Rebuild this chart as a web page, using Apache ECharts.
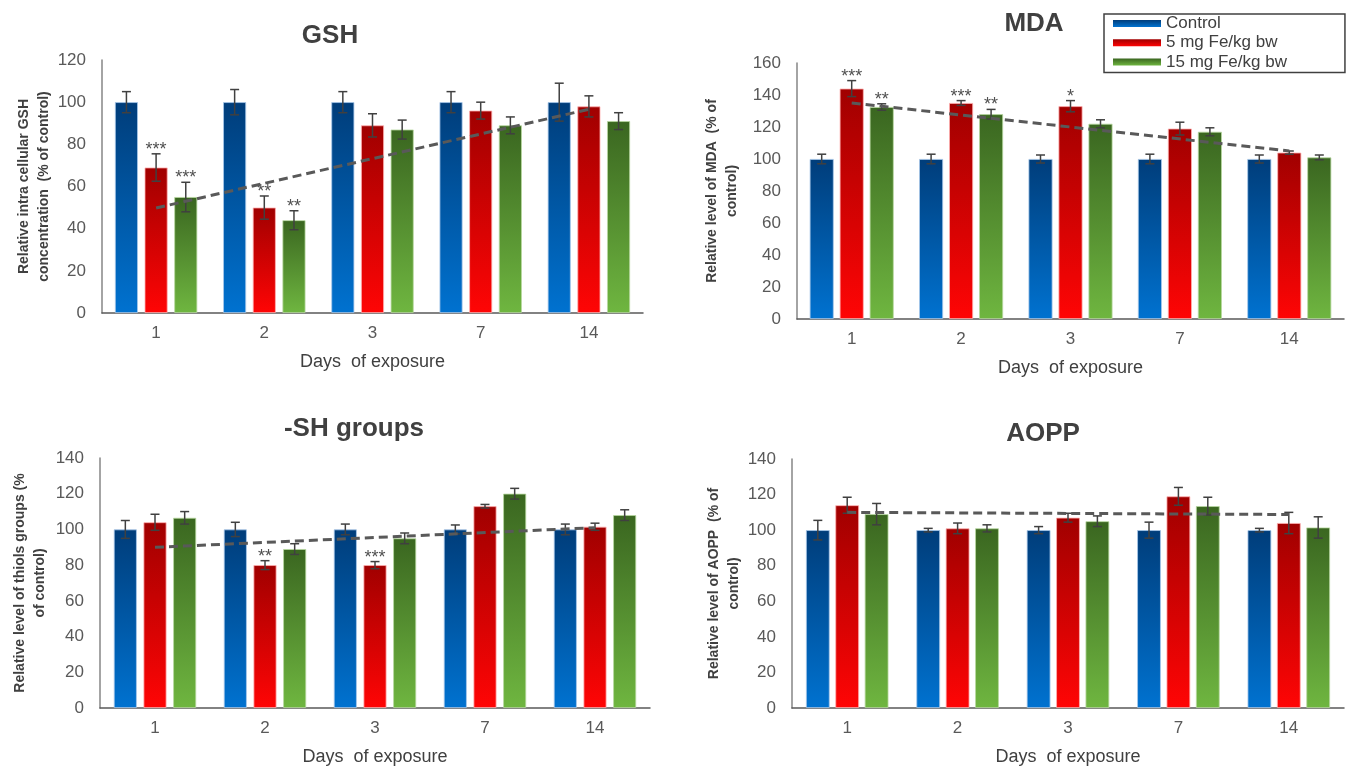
<!DOCTYPE html>
<html>
<head>
<meta charset="utf-8">
<script src="https://cdn.jsdelivr.net/npm/echarts@6/dist/echarts.min.js"></script>
<style>
html,body{margin:0;padding:0;background:#fff;}
#chart{width:1350px;height:769px;}
</style>
</head>
<body>
<div id="chart"></div>
<script>
// ---------- DATA ----------
const days = ['1', '2', '3', '7', '14'];
const seriesNames = ['Control', '5 mg Fe/kg bw', '15 mg Fe/kg bw'];

// GSH
const gshControl = [100, 100, 100, 100, 100];
const gshControlErr = [5, 6, 5, 5, 9];
const gsh5 = [69, 50, 89, 96, 98];
const gsh5Err = [6.5, 5.5, 5.5, 4, 5];
const gsh15 = [55, 44, 87, 89, 91];
const gsh15Err = [7, 4.5, 4.5, 4, 4];
const gshSig5 = ['***', '**', '', '', ''];
const gshSig15 = ['***', '**', '', '', ''];
const gshTrend = [49.8, null, null, null, 96.6];

// MDA
const mdaControl = [100, 100, 100, 100, 100];
const mdaControlErr = [3, 3, 2.5, 3, 2.5];
const mda5 = [144, 135, 133, 119, 104];
const mda5Err = [5, 1.5, 3.5, 4, 1];
const mda15 = [132.5, 128, 122, 117, 101];
const mda15Err = [2, 3, 2.5, 2.5, 1.5];
const mdaSig5 = ['***', '***', '*', '', ''];
const mdaSig15 = ['**', '**', '', '', ''];
const mdaTrend = [135, null, null, null, 105];

// -SH groups
const shControl = [100, 100, 100, 100, 100];
const shControlErr = [5, 4, 3, 2.5, 3];
const sh5 = [104, 80, 80, 113, 101.5];
const sh5Err = [4.5, 2.5, 2, 1, 2];
const sh15 = [106.5, 89, 95, 120, 108];
const sh15Err = [3.5, 3, 3, 3, 3];
const shSig5 = ['', '**', '***', '', ''];
const shSig15 = ['', '', '', '', ''];
const shTrend = [90, null, null, null, 101];

// AOPP
const aoppControl = [100, 100, 100, 100, 100];
const aoppControlErr = [5.5, 1, 2, 4.5, 1];
const aopp5 = [114, 101, 107, 119, 104];
const aopp5Err = [4.5, 3, 2.5, 5, 6];
const aopp15 = [109, 101, 105, 113.5, 101.5];
const aopp15Err = [6, 2, 3, 5, 6];
const aoppSig5 = ['', '', '', '', ''];
const aoppSig15 = ['', '', '', '', ''];
const aoppTrend = [110, null, null, null, 108.8];

const noSig = ['', '', '', '', ''];

// ---------- STYLE ----------
const SANS = '"Liberation Sans",Arial,sans-serif';
const grad = (a, b) => new echarts.graphic.LinearGradient(0, 0, 0, 1, [{offset: 0, color: a}, {offset: 1, color: b}]);
const barColors = [
  () => grad('#003d7a', '#0072d0'),
  () => grad('#a00000', '#ff0505'),
  () => grad('#3a6620', '#6fb640')
];
const barBorders = ['#a8c8ea', '#ffb0b0', '#b8d8a0'];

const panels = [
  {title: 'GSH', tx: 325, ty: 18, grid: {left: 102, top: 60, width: 541, height: 253}, max: 120,
   yname: 'Relative intra cellular GSH\nconcentration  (% of control)', ynameGap: 48, bw: 23, gap: 0.29,
   vals: [gshControl, gsh5, gsh15], errs: [gshControlErr, gsh5Err, gsh15Err], sig: [noSig, gshSig5, gshSig15], trend: gshTrend},
  {title: 'MDA', tx: 1029, ty: 6, grid: {left: 797, top: 63, width: 547, height: 256}, max: 160,
   yname: 'Relative level of MDA  (% of\ncontrol)', ynameGap: 55, bw: 24, gap: 0.25,
   vals: [mdaControl, mda5, mda15], errs: [mdaControlErr, mda5Err, mda15Err], sig: [noSig, mdaSig5, mdaSig15], trend: mdaTrend},
  {title: '-SH groups', tx: 349, ty: 411, grid: {left: 100, top: 458, width: 550, height: 250}, max: 140,
   yname: 'Relative level of thiols groups (%\nof control)', ynameGap: 50, bw: 23, gap: 0.29,
   vals: [shControl, sh5, sh15], errs: [shControlErr, sh5Err, sh15Err], sig: [noSig, shSig5, shSig15], trend: shTrend},
  {title: 'AOPP', tx: 1038, ty: 416, grid: {left: 792, top: 459, width: 552, height: 249}, max: 140,
   yname: 'Relative level of AOPP  (% of\ncontrol)', ynameGap: 48, bw: 23.7, gap: 0.24,
   vals: [aoppControl, aopp5, aopp15], errs: [aoppControlErr, aopp5Err, aopp15Err], sig: [noSig, aoppSig5, aoppSig15], trend: aoppTrend}
];

const option = {
  backgroundColor: '#ffffff',
  animation: false,
  title: [], grid: [], xAxis: [], yAxis: [], series: [],
  legend: {
    data: seriesNames,
    orient: 'vertical', left: 1104, top: 14,
    itemWidth: 48, itemHeight: 7, itemGap: 2.3,
    padding: [1, 58, 2, 9],
    borderColor: '#404040', borderWidth: 1.5,
    icon: 'rect',
    itemStyle: {borderWidth: 0},
    textStyle: {fontSize: 17, color: '#404040', fontFamily: SANS, lineHeight: 17}
  }
};

panels.forEach((p, gi) => {
  option.title.push({
    text: p.title, left: p.tx, top: p.ty, textAlign: 'center',
    textStyle: {fontSize: 26, fontWeight: 'bold', color: '#404040', fontFamily: SANS}
  });
  option.grid.push(p.grid);
  option.xAxis.push({
    type: 'category', gridIndex: gi, data: days,
    name: 'Days  of exposure', nameLocation: 'middle', nameGap: 40, nameMoveOverlap: false,
    nameTextStyle: {fontSize: 18, color: '#404040', fontFamily: SANS},
    axisLine: {lineStyle: {color: '#595959', width: 1.5}},
    axisTick: {show: false},
    axisLabel: {fontSize: 17, color: '#595959', fontFamily: SANS, margin: 11.5}
  });
  option.yAxis.push({
    type: 'value', gridIndex: gi, min: 0, max: p.max, interval: 20,
    name: p.yname, nameLocation: 'middle', nameGap: p.ynameGap, nameRotate: 90, nameMoveOverlap: false,
    nameTextStyle: {fontSize: 14, fontWeight: 'bold', color: '#404040', fontFamily: SANS, lineHeight: 20},
    axisLine: {show: true, lineStyle: {color: '#868686', width: 1.5}},
    axisTick: {show: false},
    splitLine: {show: false},
    axisLabel: {fontSize: 17, color: '#595959', fontFamily: SANS, margin: 16}
  });
  for (let s = 0; s < 3; s++) {
    option.series.push({
      type: 'bar', name: seriesNames[s], xAxisIndex: gi, yAxisIndex: gi,
      data: p.vals[s], barWidth: p.bw, barGap: (p.gap * 100) + '%',
      itemStyle: {color: barColors[s](), borderColor: barBorders[s], borderWidth: 0.8},
      z: 2
    });
  }
  for (let s = 0; s < 3; s++) {
    const offset = (s - 1) * p.bw * (1 + p.gap);
    option.series.push({
      type: 'custom', name: 'err' + gi + '_' + s, xAxisIndex: gi, yAxisIndex: gi,
      data: days.map((d, i) => [i, p.vals[s][i], p.errs[s][i]]),
      z: 4,
      renderItem: (params, api) => {
        const cat = api.value(0), v = api.value(1), e = api.value(2);
        const sig = p.sig[s][params.dataIndex];
        const x = api.coord([cat, v])[0] + offset;
        const yt = api.coord([cat, v + e])[1];
        const yb = api.coord([cat, v - e])[1];
        const st = {stroke: '#404040', lineWidth: 1.5};
        const children = [
          {type: 'line', shape: {x1: x, y1: yt, x2: x, y2: yb}, style: st},
          {type: 'line', shape: {x1: x - 4.5, y1: yt, x2: x + 4.5, y2: yt}, style: st},
          {type: 'line', shape: {x1: x - 4.5, y1: yb, x2: x + 4.5, y2: yb}, style: st}
        ];
        if (sig) {
          children.push({type: 'text', style: {text: sig, x: x, y: yt + 5, align: 'center', verticalAlign: 'bottom',
            fill: '#505050', font: '18px "Liberation Sans", Arial, sans-serif'}});
        }
        return {type: 'group', children: children};
      }
    });
  }
  option.series.push({
    type: 'line', name: 'trend' + gi, xAxisIndex: gi, yAxisIndex: gi,
    data: p.trend, connectNulls: true, symbol: 'none', z: 5,
    lineStyle: {color: '#595959', width: 3, type: [9, 5]}
  });
});

const chart = echarts.init(document.getElementById('chart'), null, {renderer: 'canvas'});
chart.setOption(option);
</script>
</body>
</html>
